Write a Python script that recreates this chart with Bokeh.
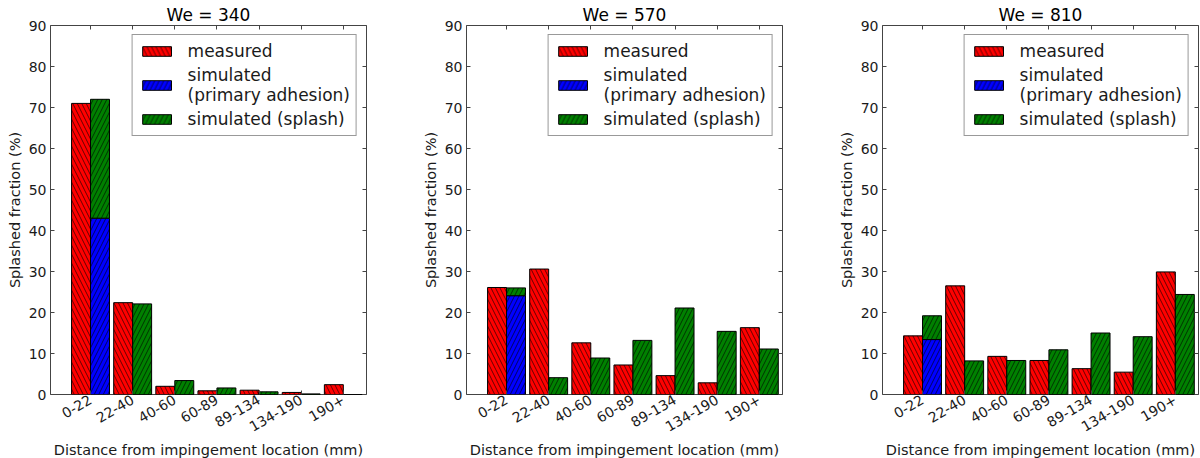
import numpy as np
from math import pi
from bokeh.plotting import figure
from bokeh.models import (ColumnDataSource, FixedTicker, SingleIntervalTicker, LinearAxis,
                          Legend, LegendItem, Range1d, Title)
from bokeh.layouts import row
from bokeh.embed import file_html
from bokeh.resources import INLINE

categories = ["0-22", "22-40", "40-60", "60-89", "89-134", "134-190", "190+"]
titles = ["We = 340", "We = 570", "We = 810"]

measured_340 = [71.0, 22.4, 2.0, 0.9, 1.05, 0.5, 2.4]
adhesion_340 = [43.0, 0, 0, 0, 0, 0, 0]
splash_340 = [29.0, 22.1, 3.4, 1.6, 0.65, 0.15, 0.0]

measured_570 = [26.1, 30.6, 12.6, 7.2, 4.6, 2.85, 16.3]
adhesion_570 = [24.1, 0, 0, 0, 0, 0, 0]
splash_570 = [1.9, 4.1, 8.9, 13.2, 21.1, 15.4, 11.1]

measured_810 = [14.3, 26.5, 9.3, 8.3, 6.3, 5.45, 29.9]
adhesion_810 = [13.4, 0, 0, 0, 0, 0, 0]
splash_810 = [5.8, 8.2, 8.3, 10.9, 15.0, 14.1, 24.4]

x_label = "Distance from impingement location (mm)"
y_label = "Splashed fraction (%)"
legend_labels = ["measured", "simulated\n(primary adhesion)", "simulated (splash)"]

FONT = "DejaVu Sans"
BAR_W = 0.45
TEXT = "#1a1a1a"
FRAME = "#444444"


def panel(title, measured, adhesion, splash, width, border_right):
    idx = np.arange(len(categories))
    adh = np.array(adhesion, dtype=float)
    src = ColumnDataSource(dict(
        xm=idx + BAR_W / 2,
        xs=idx + 1.5 * BAR_W,
        meas=measured,
        adh=adh,
        sim=adh + np.array(splash, dtype=float),
    ))
    p = figure(width=width, height=458, x_range=Range1d(-0.5, 7.0), y_range=Range1d(0, 90),
               output_backend="svg", toolbar_location=None,
               min_border_left=50, min_border_right=border_right,
               min_border_top=25, min_border_bottom=64)
    p.grid.visible = False
    p.outline_line_color = FRAME
    p.outline_line_width = 1
    p.background_fill_color = "white"
    p.border_fill_color = "white"

    common = dict(width=BAR_W, line_color="black", line_width=1, hatch_color="black",
                  hatch_weight=0.6, hatch_scale=9, source=src)
    r_meas = p.vbar(x="xm", bottom=0, top="meas", fill_color="#ff0000", hatch_pattern="\\", **common)
    r_adh = p.vbar(x="xs", bottom=0, top="adh", fill_color="#0000ff", hatch_pattern="/", **common)
    r_spl = p.vbar(x="xs", bottom="adh", top="sim", fill_color="#008000", hatch_pattern="/", **common)

    ticks = [round(float(i) + BAR_W, 2) for i in idx]
    xt = FixedTicker(ticks=ticks)
    yt = SingleIntervalTicker(interval=10)

    for ax in p.xaxis:
        ax.ticker = xt
        ax.major_label_overrides = {t: c for t, c in zip(ticks, categories)}
        ax.major_label_orientation = pi / 6
        ax.major_label_standoff = 4
    for ax in p.yaxis:
        ax.ticker = yt
        ax.axis_label = y_label
        ax.major_label_standoff = 4
        ax.axis_label_standoff = 3
    for ax in list(p.xaxis) + list(p.yaxis):
        ax.axis_line_color = None
        ax.major_tick_in = 4
        ax.major_tick_out = 0
        ax.minor_tick_out = 0
        ax.minor_tick_in = 0
        ax.major_tick_line_color = FRAME
        ax.minor_tick_line_color = None
        ax.major_label_text_font = FONT
        ax.major_label_text_font_size = "14px"
        ax.major_label_text_color = TEXT
        ax.axis_label_text_font = FONT
        ax.axis_label_text_font_size = "14.5px"
        ax.axis_label_text_font_style = "normal"
        ax.axis_label_text_color = TEXT

    for place, tk in (("above", xt), ("right", yt)):
        ax = LinearAxis(ticker=tk, axis_line_color=None, major_tick_in=4, major_tick_out=0,
                        minor_tick_in=0, minor_tick_out=0,
                        major_tick_line_color=FRAME, minor_tick_line_color=None,
                        major_label_text_font_size="1px", major_label_text_color=None,
                        major_label_standoff=0)
        p.add_layout(ax, place)

    p.title.text = title
    p.title.align = "center"
    p.title.text_font = FONT
    p.title.text_font_size = "17px"
    p.title.text_font_style = "normal"
    p.title.text_color = "black"
    p.title.standoff = 2

    p.add_layout(Title(text=x_label, align="center", vertical_align="bottom", standoff=0,
                       text_font=FONT, text_font_size="14.5px", text_font_style="normal",
                       text_color=TEXT), "below")

    legend = Legend(items=[
        LegendItem(label=legend_labels[0], renderers=[r_meas]),
        LegendItem(label=legend_labels[1], renderers=[r_adh]),
        LegendItem(label=legend_labels[2], renderers=[r_spl]),
    ], location="top_right")
    legend.margin = 9
    legend.padding = 6
    legend.spacing = 4
    legend.glyph_width = 36
    legend.glyph_height = 12
    legend.label_standoff = 13
    legend.label_text_font = FONT
    legend.label_text_font_size = "17px"
    legend.label_text_color = TEXT
    legend.border_line_color = "#333333"
    legend.border_line_width = 1
    legend.background_fill_color = "white"
    legend.background_fill_alpha = 1.0
    p.add_layout(legend)
    return p


p1 = panel(titles[0], measured_340, adhesion_340, splash_340, 416, 50)
p2 = panel(titles[1], measured_570, adhesion_570, splash_570, 416, 50)
p3 = panel(titles[2], measured_810, adhesion_810, splash_810, 368, 2)

layout = row(p1, p2, p3)
open("out.html", "w").write(file_html(layout, INLINE))
